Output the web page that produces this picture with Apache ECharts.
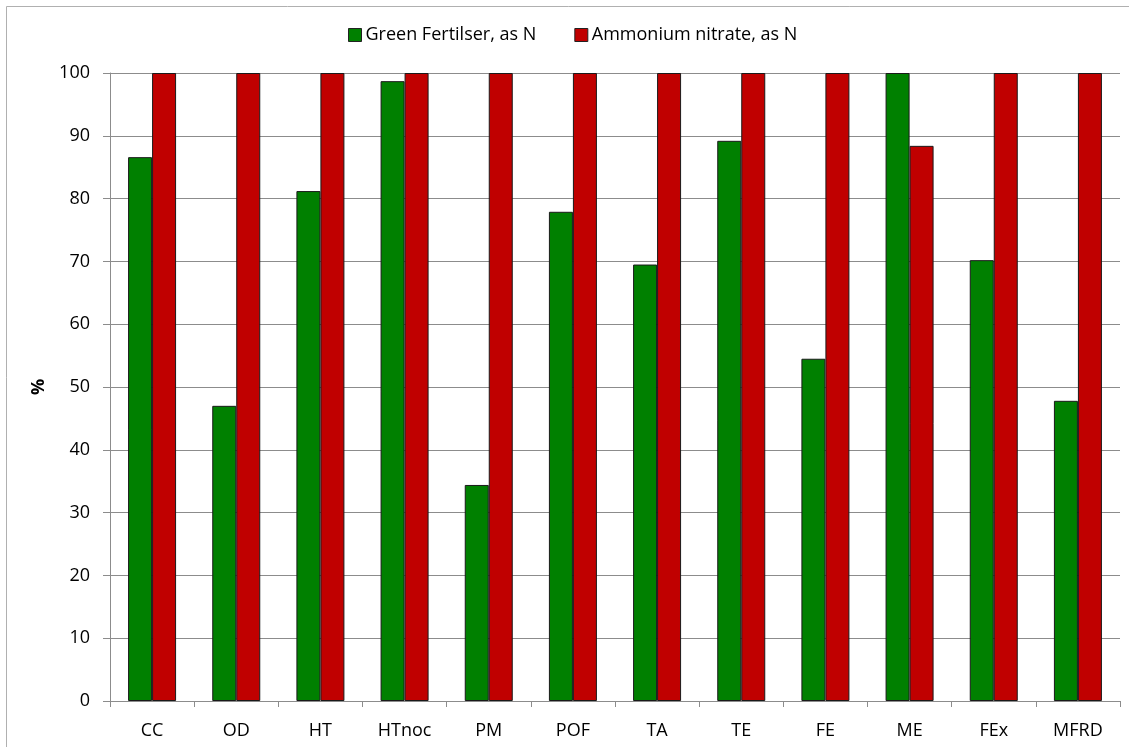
<!DOCTYPE html>
<html>
<head>
<meta charset="utf-8">
<script src="https://cdn.jsdelivr.net/npm/echarts@6/dist/echarts.min.js"></script>
<style>
  html, body { margin: 0; padding: 0; background: #fff; }
  #chart { width: 1129px; height: 747px; }
</style>
</head>
<body>
<div id="chart"></div>
<script>
// values
const categories = ['CC', 'OD', 'HT', 'HTnoc', 'PM', 'POF', 'TA', 'TE', 'FE', 'ME', 'FEx', 'MFRD']
const greenFertiliser = [86.6, 47.0, 81.2, 98.7, 34.4, 77.9, 69.5, 89.2, 54.5, 100, 70.2, 47.8]
const ammoniumNitrate = [100, 100, 100, 100, 100, 100, 100, 100, 100, 88.4, 100, 100]
const seriesNames = ['Green Fertilser, as N', 'Ammonium nitrate, as N']

const font = '"Open Sans", "Noto Sans", sans-serif'
const gridGray = '#8c8c8c'

const chart = echarts.init(document.getElementById('chart'))
const option = {
  backgroundColor: '#fff',
  animation: false,
  textStyle: { fontFamily: font, color: '#000' },
  graphic: [
    {
      // outer chart frame (right and bottom edges fall outside the picture)
      type: 'rect',
      shape: { x: 6.5, y: 6.5, width: 1200, height: 800 },
      style: { fill: 'none', stroke: '#b0b0b0', lineWidth: 1 },
      silent: true,
      z: -1
    }
  ],
  legend: {
    data: seriesNames,
    left: 343,
    top: 21,
    itemWidth: 13,
    itemHeight: 13,
    itemGap: 38,
    icon: 'rect',
    textStyle: { fontFamily: font, fontSize: 18, color: '#000', padding: [0, 0, 0, -1] },
    itemStyle: { borderColor: '#222', borderWidth: 1 }
  },
  grid: {
    left: 110,
    right: 9,
    top: 73,
    bottom: 46,
    containLabel: false
  },
  xAxis: {
    type: 'category',
    data: categories,
    axisLine: { lineStyle: { color: gridGray, width: 1 } },
    axisTick: { show: true, length: 6, lineStyle: { color: gridGray } },
    axisLabel: { fontFamily: font, fontSize: 18, color: '#000', margin: 21, interval: 0 }
  },
  yAxis: {
    type: 'value',
    min: 0,
    max: 100,
    interval: 10,
    name: '%',
    nameLocation: 'middle',
    nameGap: 61,
    nameTextStyle: { fontFamily: font, fontSize: 18, fontWeight: 'bold', color: '#000' },
    axisLine: { show: true, lineStyle: { color: gridGray, width: 1 } },
    axisTick: { show: true, length: 7, lineStyle: { color: gridGray } },
    axisLabel: { fontFamily: font, fontSize: 18, color: '#000', margin: 20 },
    splitLine: { show: true, lineStyle: { color: gridGray, width: 1 } }
  },
  series: [
    {
      name: seriesNames[0],
      type: 'bar',
      barWidth: 24,
      barGap: '0%',
      data: greenFertiliser,
      itemStyle: { color: '#008000', borderColor: '#1a1a1a', borderWidth: 1 }
    },
    {
      name: seriesNames[1],
      type: 'bar',
      barWidth: 24,
      barGap: '0%',
      data: ammoniumNitrate,
      itemStyle: { color: '#c00000', borderColor: '#1a1a1a', borderWidth: 1 }
    }
  ]
}
chart.setOption(option)
</script>
</body>
</html>
